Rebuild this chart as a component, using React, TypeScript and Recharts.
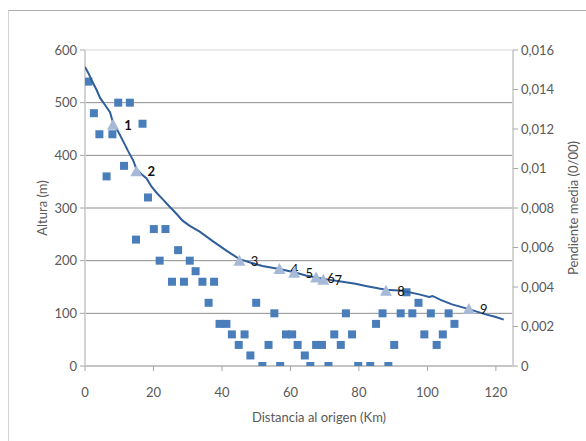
import React from 'react';
import { ScatterChart, Scatter, XAxis, YAxis, ReferenceLine, Label } from 'recharts';

// Perfil longitudinal del cauce (distancia en km, altura en m)
const perfilDist = [0, 1.0, 1.9, 3.4, 4.4, 5.8, 7.3, 8.2, 9.7, 11.2, 12.6, 14.1, 15.0, 16.5, 18.0, 19.4, 20.9, 22.8, 24.8, 26.7, 28.5, 30.6, 33.5, 37.3, 41.3, 45.1, 48.5, 51.8, 56.8, 61.1, 64.5, 67.5, 71.0, 75.2, 79.0, 82.0, 85.9, 88.0, 92.6, 97.6, 100.5, 101.5, 104.0, 107.2, 112.1, 117.0, 120.0, 122.3];
const perfilAlt = [568, 556, 543, 524, 509, 496, 482, 462, 445, 426, 408, 390, 374, 364, 356, 341, 329, 316, 302, 289, 276, 266, 255, 237, 219, 203, 196, 190, 184, 178, 172, 168, 164, 160, 156, 152, 147, 145, 143, 136, 131, 133, 125, 117, 108, 98, 93, 88];

// Cotas de las curvas de nivel cruzadas
const cotaDist = [1.0, 2.6, 4.2, 6.3, 8.0, 9.7, 13.1, 11.4, 16.8, 18.4, 14.9, 20.1, 23.5, 21.8, 25.4, 27.2, 28.9, 30.6, 32.3, 34.3, 37.7, 36.1, 39.3, 41.3, 42.9, 44.9, 46.6, 48.3, 50.0, 51.8, 53.6, 55.3, 57.0, 58.7, 60.5, 62.1, 64.2, 65.8, 67.5, 69.2, 71.1, 72.8, 74.7, 76.2, 78.0, 79.8, 83.3, 85.0, 86.9, 88.6, 90.3, 92.2, 93.9, 95.6, 97.4, 99.1, 101.0, 102.7, 104.5, 106.2, 107.9];
const cotaAlt = [540, 480, 440, 360, 440, 500, 500, 380, 460, 320, 240, 260, 260, 200, 160, 220, 160, 200, 180, 160, 160, 120, 80, 80, 60, 40, 60, 20, 120, 0, 40, 100, 0, 60, 60, 40, 20, 0, 40, 40, 0, 60, 40, 100, 60, 0, 0, 80, 100, 0, 40, 100, 140, 100, 120, 60, 100, 40, 60, 100, 80];

// Puntos singulares del perfil
const puntoDist = [8.2, 15.0, 45.1, 56.8, 61.1, 67.5, 69.6, 87.9, 112.1];
const puntoAlt = [458, 370, 200, 184, 177, 168, 164, 143, 108];
const puntoEtiqueta = ['1', '2', '3', '4', '5', '6', '7', '8', '9'];

const xTicks = [0, 20, 40, 60, 80, 100, 120];
const altTicks = [0, 100, 200, 300, 400, 500, 600];
const altGrid = [100, 200, 300, 400, 500];
const pendTicks = [0, 0.002, 0.004, 0.006, 0.008, 0.01, 0.012, 0.014, 0.016];

const perfil = perfilDist.map((x, i) => ({ x, y: perfilAlt[i] }));
const cotas = cotaDist.map((x, i) => ({ x, y: cotaAlt[i] }));
const puntos = puntoDist.map((x, i) => ({ x, y: puntoAlt[i], n: puntoEtiqueta[i] }));

const FONT = 'Lato, "Open Sans", sans-serif';
const GRIS = '#595959';

const Cuadrado = (props: any) => {
  const { cx, cy } = props;
  return <rect x={cx - 4} y={cy - 4} width={8} height={8} fill="#4A7EBB" />;
};

const Vacio = () => <g />;

const Triangulo = (props: any) => {
  const { cx, cy, payload } = props;
  const negrita = payload.n === '1' || payload.n === '2';
  return (
    <g>
      <polygon
        points={`${cx},${cy - 6} ${cx - 6},${cy + 5} ${cx + 6},${cy + 5}`}
        fill="#A6B9D7"
      />
      <text
        x={cx + 15}
        y={cy}
        textAnchor="middle"
        dominantBaseline="central"
        fontFamily={FONT}
        fontSize={13}
        fontWeight={negrita ? 700 : 400}
        fill="#111"
      >
        {payload.n}
      </text>
    </g>
  );
};

const formatoPendiente = (v: number) => (v === 0 ? '0' : String(v).replace('.', ','));

export default function App() {
  return (
    <div style={{ position: 'absolute', left: 0, top: 0, width: 586, height: 441, overflow: 'hidden', background: '#fff' }}>
      <div
        style={{
          position: 'absolute',
          left: 8,
          top: 10,
          width: 640,
          height: 500,
          borderTop: '1px solid #ababab',
          borderLeft: '1px solid #d4d4d4',
        }}
      />
      <div style={{ position: 'absolute', left: 0, top: 0 }}>
        <ScatterChart width={586} height={441} margin={{ top: 50, right: 3, bottom: 45, left: 35 }}>
          <XAxis
            type="number"
            dataKey="x"
            domain={[0, 125]}
            ticks={xTicks}
            allowDataOverflow
            height={30}
            tickSize={5}
            tickMargin={17}
            axisLine={{ stroke: '#8a8a8a' }}
            tickLine={{ stroke: '#a6a6a6' }}
            tick={{ fill: GRIS, fontSize: 13, fontFamily: FONT }}
          >
            <Label
              value="Distancia al origen (Km)"
              position="bottom"
              offset={17}
              dx={20}
              style={{ fill: GRIS, fontSize: 13, fontFamily: FONT }}
            />
          </XAxis>
          <YAxis
            yAxisId="left"
            type="number"
            dataKey="y"
            domain={[0, 600]}
            ticks={altTicks}
            allowDataOverflow
            width={50}
            tickSize={5}
            tickMargin={3}
            axisLine={{ stroke: '#d4d4d4', strokeWidth: 2 }}
            tickLine={{ stroke: '#a6a6a6' }}
            tick={{ fill: GRIS, fontSize: 13, fontFamily: FONT }}
          >
            <Label
              value="Altura (m)"
              angle={-90}
              position="insideLeft"
              offset={7}
              style={{ fill: GRIS, fontSize: 13, fontFamily: FONT, textAnchor: 'middle' }}
            />
          </YAxis>
          <YAxis
            yAxisId="right"
            orientation="right"
            type="number"
            dataKey="y"
            domain={[0, 0.016]}
            ticks={pendTicks}
            allowDataOverflow
            width={70}
            tickSize={5}
            tickMargin={3}
            tickFormatter={formatoPendiente}
            axisLine={{ stroke: '#d4d4d4', strokeWidth: 2 }}
            tickLine={{ stroke: '#a6a6a6' }}
            tick={{ fill: GRIS, fontSize: 13, fontFamily: FONT, textAnchor: 'start' }}
          >
            <Label
              value="Pendiente media (0/00)"
              angle={-90}
              position="insideRight"
              offset={10}
              style={{ fill: GRIS, fontSize: 13, fontFamily: FONT, textAnchor: 'middle' }}
            />
          </YAxis>

          <ReferenceLine yAxisId="left" y={600} stroke="#d6d6d6" />
          {altGrid.map((v) => (
            <ReferenceLine key={v} yAxisId="left" y={v} stroke="#8e8e8e" />
          ))}

          <Scatter yAxisId="left" data={cotas} shape={Cuadrado} isAnimationActive={false} />
          <Scatter
            yAxisId="left"
            data={perfil}
            shape={Vacio}
            line={{ stroke: '#2E5E9C', strokeWidth: 2 }}
            isAnimationActive={false}
          />
          <Scatter yAxisId="left" data={puntos} shape={Triangulo} isAnimationActive={false} />
        </ScatterChart>
      </div>
    </div>
  );
}
